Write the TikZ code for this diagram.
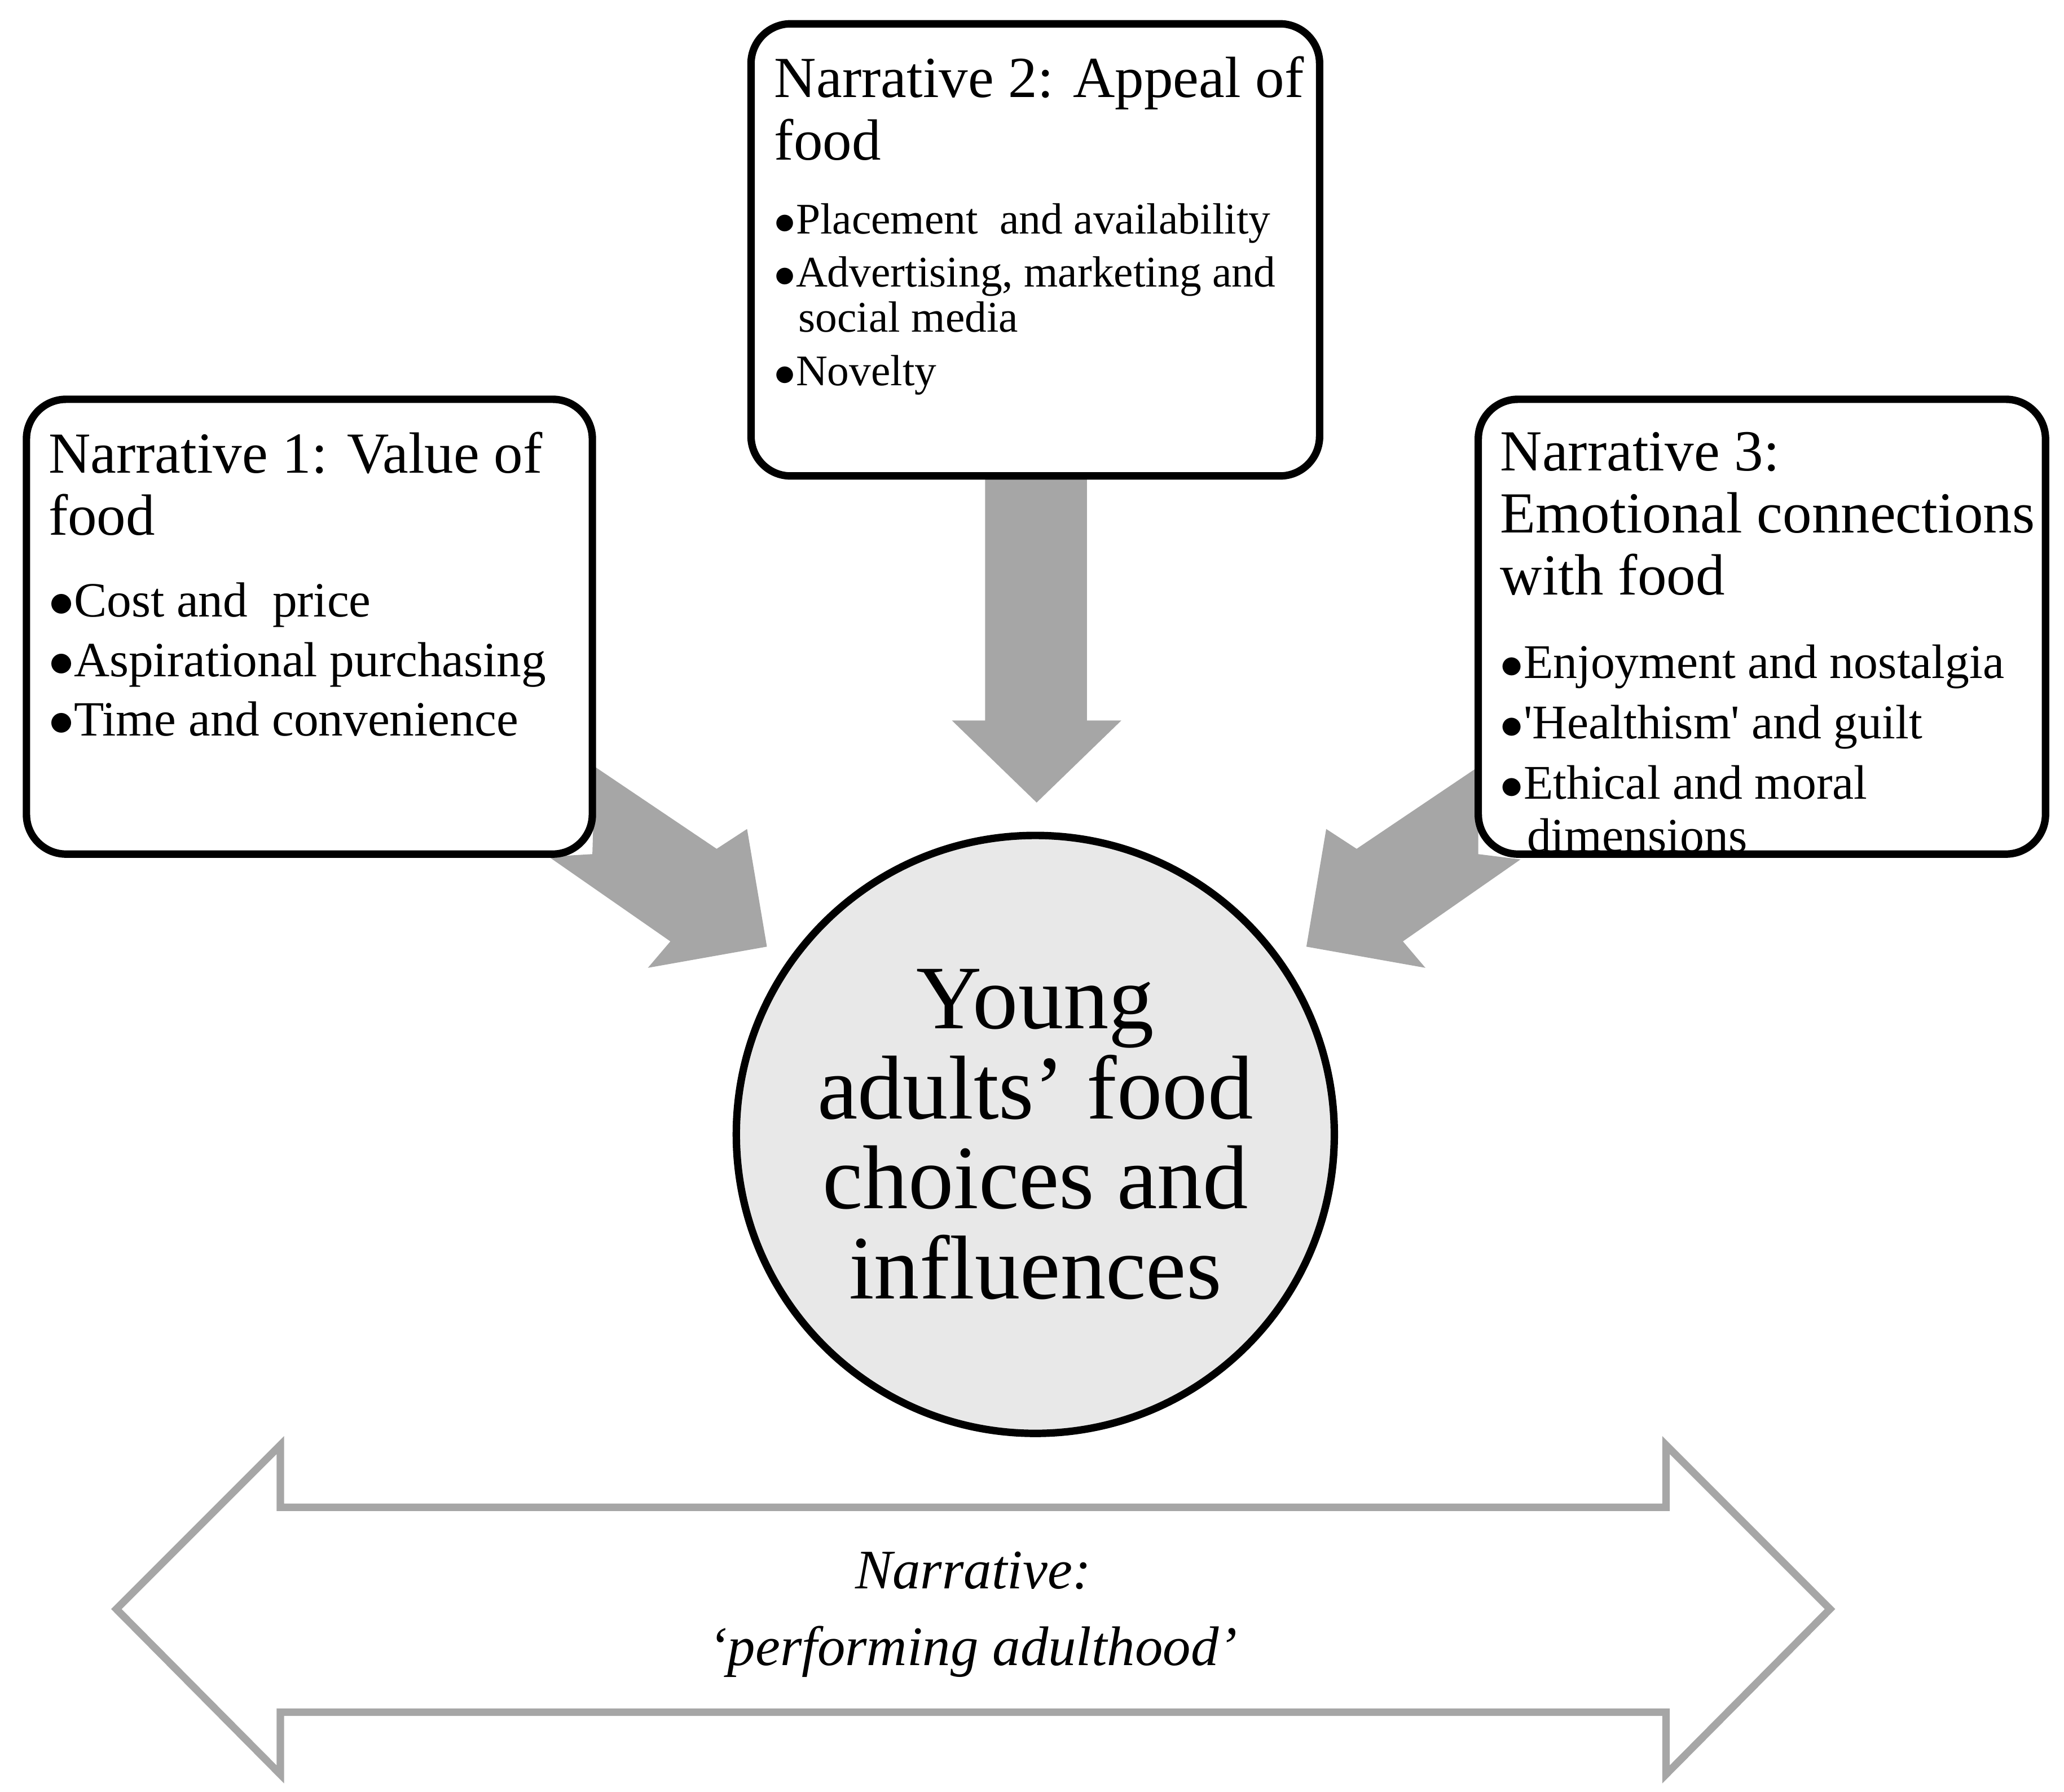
\documentclass[tikz,border=0pt]{standalone}
\usepackage{fontspec}
\setmainfont{Liberation Serif}
\begin{document}
\begin{tikzpicture}[x=0.01cm,y=-0.01cm,
  box/.style={draw,line width=1.6pt,rounded corners=0.3cm},
  garrow/.style={fill=black!35,draw=none},
  ttl/.style={anchor=north west,align=left,font=\fontsize{12.5}{13.4}\selectfont,inner sep=0pt},
  bul/.style={anchor=north west,align=left,inner sep=0pt}]
\useasboundingbox (0,0) rectangle (1561,1355);
% arrows
\fill[garrow] (745,360) -- (822,360) -- (822,545) -- (848,545) -- (784,607) -- (720,545) -- (745,545) -- cycle;
\fill[garrow] (450,580) -- (542,642) -- (565,627) -- (580,716) -- (490,732) -- (507,712) -- (415,648) -- (448,646) -- cycle;
\fill[garrow] (1118,580) -- (1026,642) -- (1003,627) -- (988,716) -- (1078,732) -- (1061,712) -- (1150,650) -- (1118,646) -- cycle;
% boxes
\draw[box,fill=white] (20,302) rectangle (448,646);
\draw[box,fill=white] (568,18) rectangle (998,360);
\draw[box,fill=white] (1118,302) rectangle (1547,646);
% circle
\node[draw,line width=1.6pt,circle,fill=black!9,minimum size=4.52cm,inner sep=0pt,align=center,
  font=\fontsize{19.5}{19.4}\selectfont] (c) at (783,858) {Young\\adults’ food\\choices and\\influences};
% texts
\node[ttl] (t1) at (36,326) {Narrative 1: Value of\\food};
\node[bul,font=\fontsize{10.6}{12.8}\selectfont] (b1) at (36,440) {$\bullet$Cost and\ \ price\\$\bullet$Aspirational purchasing\\$\bullet$Time and convenience};
\node[ttl] (t2) at (585,42) {Narrative 2: Appeal of\\food};
\node[bul,font=\fontsize{9.4}{9.7}\selectfont] (b2) at (585,153) {$\bullet$Placement\ \ and availability\\[1.8pt]$\bullet$Advertising, marketing and\\\hspace*{1.2ex}social media\\[1.8pt]$\bullet$Novelty};
\node[ttl] (t3) at (1134,326) {Narrative 3:\\Emotional connections\\with food};
\node[bul,font=\fontsize{10.4}{11.4}\selectfont] (b3) at (1134,487) {$\bullet$Enjoyment and nostalgia\\[1.6pt]$\bullet$\textquotesingle Healthism\textquotesingle\ and guilt\\[1.6pt]$\bullet$Ethical and moral\\\hspace*{1.2ex}dimensions};
% double arrow
\draw[draw=black!35,line width=1.6pt,fill=white] (88,1217) -- (212,1093) -- (212,1140) -- (1260,1140) -- (1260,1093) -- (1384,1217) -- (1260,1342) -- (1260,1295) -- (212,1295) -- (212,1342) -- cycle;
\node[align=center,font=\fontsize{12}{16.5}\selectfont\itshape] (n) at (736,1221) {Narrative:\\‘performing adulthood’};
\end{tikzpicture}
\end{document}
